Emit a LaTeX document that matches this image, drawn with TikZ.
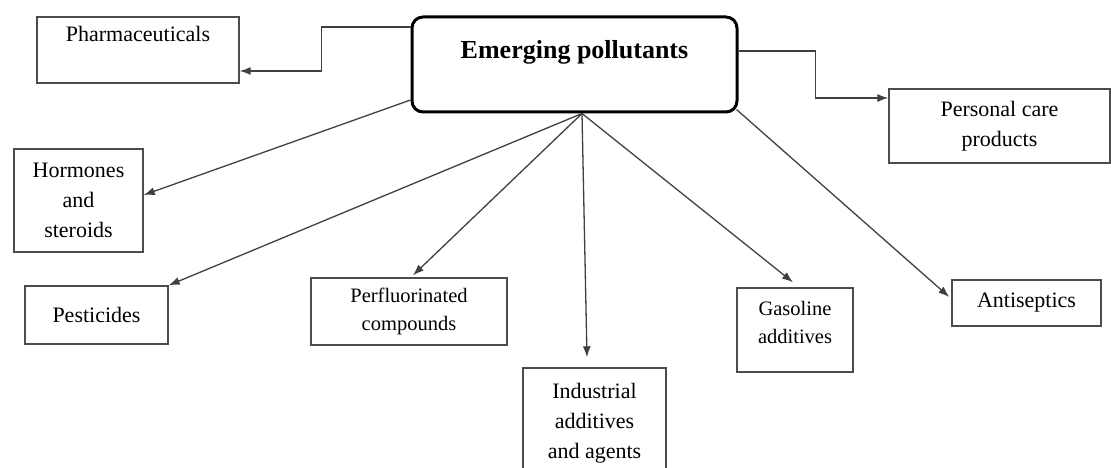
\documentclass[tikz,border=0pt]{standalone}
\usepackage{fontspec}
\setmainfont{Liberation Serif}
\usetikzlibrary{arrows.meta}

\tikzset{
  box/.style={draw=black!70, line width=1.4pt, inner sep=0pt, align=center,
    font=\fontsize{22}{30}\selectfont},
  smallbox/.style={box, font=\fontsize{20.5}{28}\selectfont},
  mainbox/.style={draw=black, line width=3pt, rounded corners=11pt, inner sep=0pt,
    font=\fontsize{26}{32}\selectfont\bfseries},
  arr/.style={draw=black!75, line width=1.3pt, -{Latex[length=11pt,width=8pt]}}
}

\begin{document}
\begin{tikzpicture}[x=1pt, y=-1pt]
      % Page size (pixels of the reference)
      \useasboundingbox (0,0) rectangle (1111,468);

      % Centre box
      \node[mainbox, minimum width=325pt, minimum height=95pt, text height=18pt, text depth=30pt]
        (main) at (574.5,64.5) {Emerging pollutants};

      % Outer boxes
      \node[box, minimum width=202pt, minimum height=66pt, text height=15pt, text depth=31pt]
        (phar) at (138,50) {Pharmaceuticals};
      \node[box, minimum width=221pt, minimum height=74pt] (pcare) at (999.5,126) {Personal care\\products};
      \node[box, minimum width=129pt, minimum height=103pt] (horm) at (78.5,200.5) {Hormones\\and\\steroids};
      \node[box, minimum width=143pt, minimum height=58pt] (pest) at (96.5,315) {Pesticides};
      \node[smallbox, minimum width=196pt, minimum height=67pt] (perf) at (409,311.5) {Perfluorinated\\compounds};
      \node[box, minimum width=143pt, minimum height=110pt] (indu) at (594.5,423) {Industrial\\additives\\and agents};
      \node[smallbox, minimum width=116pt, minimum height=84pt] (gaso) at (795,330) {Gasoline\\additives\\[-12pt]\mbox{}};
      \node[box, minimum width=149pt, minimum height=46pt] (anti) at (1026.5,303) {Antiseptics};

      % Elbow connectors at the top
      \draw[arr] ([yshift=37.5pt]main.west) -- ++(-89,0) |- ([yshift=-21pt]phar.east);
      \draw[arr] ([yshift=13.5pt]main.east) -- ++(77,0) |- ([yshift=28pt]pcare.west);

      % Straight connectors
      \coordinate (fan) at ([xshift=7.5pt]main.south);
      \draw[arr] ([yshift=-35.5pt]main.west) -- ([yshift=5.5pt]horm.east);
      \draw[arr] (fan) -- (pest.north east);
      \draw[arr] (fan) -- ([xshift=4pt,yshift=2pt]perf.north);
      \draw[arr] (fan) -- ([xshift=-7.5pt,yshift=10pt]indu.north);
      \draw[arr] (fan) -- ([xshift=-2pt,yshift=5pt]gaso.north);
      \draw[arr] ([xshift=-2pt,yshift=4pt]main.south east) -- ([xshift=-2pt,yshift=6pt]anti.west);
\end{tikzpicture}
\end{document}
